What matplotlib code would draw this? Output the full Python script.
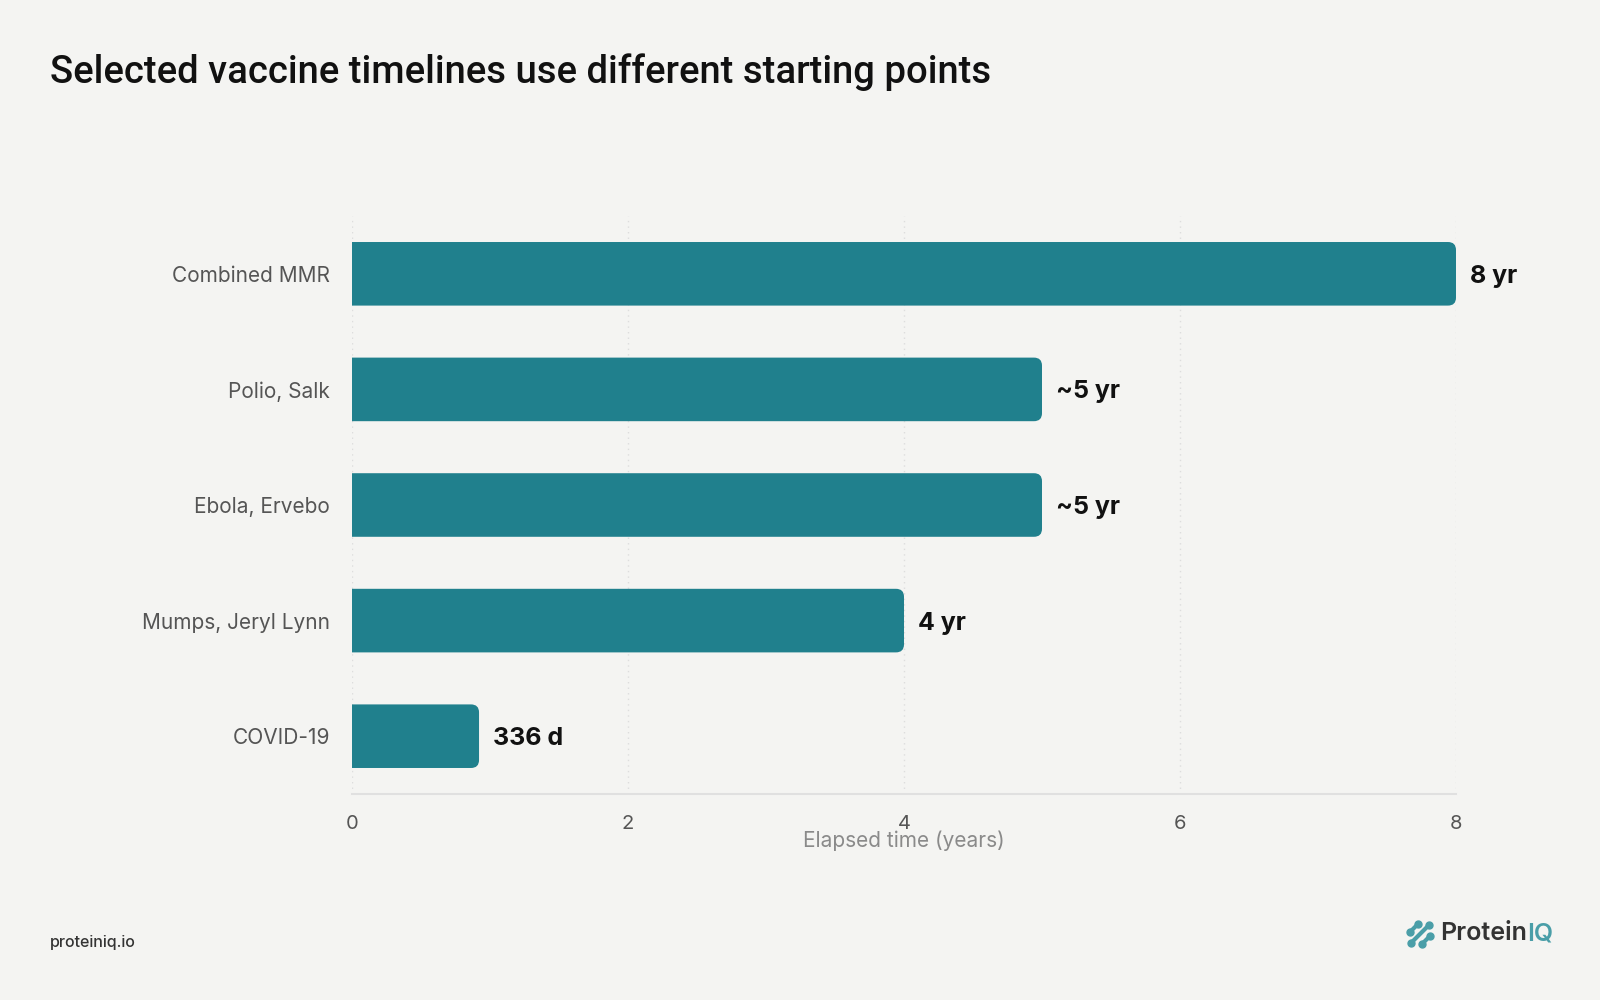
import matplotlib
matplotlib.use("Agg")
import matplotlib.pyplot as plt
from matplotlib.patches import FancyBboxPatch
from matplotlib.lines import Line2D

categories = ["Combined MMR", "Polio, Salk", "Ebola, Ervebo", "Mumps, Jeryl Lynn", "COVID-19"]
values_years = [8, 5, 5, 4, 336 / 365]
value_labels = ["8 yr", "~5 yr", "~5 yr", "4 yr", "336 d"]
x_ticks = [0, 2, 4, 6, 8]

BG = "#f4f4f2"
BAR = "#20808d"
TEAL = "#4a9ea8"

plt.rcParams["font.family"] = ["Inter", "DejaVu Sans"]

fig = plt.figure(figsize=(16, 10), dpi=100, facecolor=BG)
ax = fig.add_axes([0.22, 0.206, 0.69, 0.578], facecolor=BG)

ypos = list(range(len(categories)))
bar_h = 0.55
bars = ax.barh(ypos, values_years, height=bar_h, color="none")
ax.set_xlim(0, 8)
ax.set_ylim(len(categories) - 0.5, -0.5)

# rounded right corners (left corners clipped by axes)
rx = 0.058
ry = 0.069
for b in bars:
    x0, y0 = b.get_x(), b.get_y()
    w, h = b.get_width(), b.get_height()
    p = FancyBboxPatch((x0 - 0.2, y0), w + 0.2, h,
                       boxstyle=f"round,pad=0,rounding_size={rx}",
                       mutation_aspect=ry / rx,
                       facecolor=BAR, edgecolor="none", zorder=3)
    ax.add_patch(p)

for y, v, lab in zip(ypos, values_years, value_labels):
    ax.annotate(lab, xy=(v, y), xytext=(10, 0), textcoords="offset points",
                va="center_baseline", ha="left", fontsize=18, fontweight="bold",
                color="#111111", zorder=4)

ax.set_yticks(ypos)
ax.set_yticklabels(categories)
ax.set_xticks(x_ticks)
ax.set_xticklabels([str(t) for t in x_ticks])
ax.tick_params(axis="y", length=0, pad=16, labelsize=15, labelcolor="#555555")
ax.tick_params(axis="x", length=0, pad=15, labelsize=14.5, labelcolor="#555555")

ax.grid(axis="x", linestyle=(0, (1, 3)), color="#dddddd", linewidth=1, zorder=0)
ax.set_axisbelow(True)
for s in ["top", "right", "left"]:
    ax.spines[s].set_visible(False)
ax.spines["bottom"].set_color("#e0e0e0")
ax.spines["bottom"].set_linewidth(1.5)

ax.set_xlabel("Elapsed time (years)", fontsize=15, color="#8a8a8a", labelpad=-2)

fig.text(0.031, 0.928, "Selected vaccine timelines use different starting points",
         fontsize=27.5, color="#111111", ha="left", va="center",
         fontweight="medium", family=["Roboto", "DejaVu Sans"])

fig.text(0.031, 0.058, "proteiniq.io", fontsize=11.5, color="#333333",
         ha="left", va="center", fontweight="medium")

# logo
t1 = fig.text(0.9, 0.066, "Protein", fontsize=18, color="#333333",
              ha="left", va="center", fontweight="semibold")
fig.canvas.draw()
bb = t1.get_window_extent()
fig.text(bb.x1 / fig.bbox.width, 0.066, "IQ", fontsize=18, color=TEAL,
         ha="left", va="center", fontweight="semibold")

# icon: diagonal strokes with dotted ends
cx, cy = 1420, 934
segs = [((-10, 2), (-2, 10)), ((-9, -9), (9, 9)), ((2, -10), (10, -2))]
for (a, b) in segs:
    xs = [(cx + a[0]) / 1600, (cx + b[0]) / 1600]
    ys = [1 - (cy - a[1]) / 1000, 1 - (cy - b[1]) / 1000]
    fig.add_artist(Line2D(xs, ys, color=TEAL, linewidth=3, solid_capstyle="round"))
    fig.add_artist(Line2D(xs, ys, color=TEAL, linestyle="none", marker="o", markersize=5))

fig.savefig("out.png", dpi=100, facecolor=BG)
